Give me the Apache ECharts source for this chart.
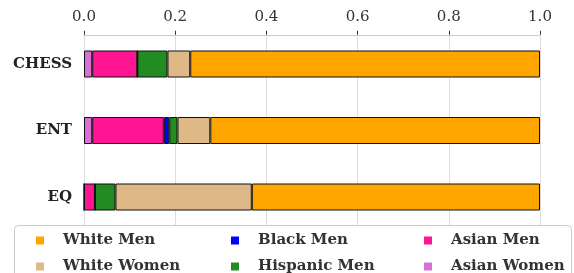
<!DOCTYPE html>
<html>
<head>
<meta charset="utf-8">
<script src="https://cdn.jsdelivr.net/npm/echarts@6/dist/echarts.min.js"></script>
<style>
html,body{margin:0;padding:0;background:#fff;}
#main{width:574px;height:273px;}
</style>
</head>
<body>
<div id="main"></div>
<script>
var categories = ['CHESS', 'ENT', 'EQ'];
var xTicks = [0, 0.2, 0.4, 0.6, 0.8, 1.0];

// stacked left to right
var asianWomen   = [0.018, 0.018, 0];
var asianMen     = [0.099, 0.157, 0.024];
var blackMen     = [0,     0.012, 0];
var hispanicMen  = [0.066, 0.018, 0.045];
var whiteWomen   = [0.050, 0.072, 0.299];
var whiteMen     = [0.767, 0.723, 0.632];

var font = 'DejaVu Serif';

function bar(name, data, color){
	return {
		name : name,
		type : 'bar',
		stack : 'all',
		barWidth : 27,
		data : data,
		itemStyle : {
			color : color,
			borderColor : '#111',
			borderWidth : 1
		}
	};
}

// one legend per entry so the 3x2 grid lines up like the original
function legendItem(left, top, name){
	return {
		left : left,
		top : top,
		z : 20,
		itemWidth : 8,
		itemHeight : 8,
		icon : 'rect',
		itemStyle : { borderWidth : 0 },
		data : [name],
		textStyle : {
			fontFamily : font,
			fontWeight : 'bold',
			fontSize : 15,
			color : '#333',
			padding : [0, 0, 0, 14]
		}
	};
}

var myChart = echarts.init(document.getElementById('main'));
var option = {
	animation : false,
	grid : {
		left : 84,
		right : 34,
		top : 30.75,
		height : 199.5
	},
	xAxis : {
		type : 'value',
		position : 'top',
		min : 0,
		max : 1,
		interval : 0.2,
		offset : -4,
		axisLine : { show : true, lineStyle : { color : '#ccc' } },
		axisTick : { show : true, length : 4, lineStyle : { color : '#333' } },
		axisLabel : {
			margin : 10,
			fontFamily : font,
			fontSize : 15,
			color : '#333',
			formatter : function(v){ return v.toFixed(1); }
		},
		splitLine : { show : true, lineStyle : { color : '#ddd' } }
	},
	yAxis : {
		type : 'category',
		inverse : true,
		data : categories,
		axisLine : { show : false },
		axisTick : { show : false },
		axisLabel : {
			margin : 12,
			fontFamily : font,
			fontWeight : 'bold',
			fontSize : 15,
			color : '#222'
		}
	},
	graphic : [ {
		type : 'rect',
		z : 10,
		shape : { x : 14.5, y : 225.5, width : 557, height : 60, r : 4 },
		style : { fill : '#fff', stroke : '#ccc', lineWidth : 1 }
	} ],
	legend : [
		legendItem(31, 228, 'White Men'),
		legendItem(31, 254, 'White Women'),
		legendItem(226, 228, 'Black Men'),
		legendItem(226, 254, 'Hispanic Men'),
		legendItem(419, 228, 'Asian Men'),
		legendItem(419, 254, 'Asian Women')
	],
	series : [
		bar('Asian Women', asianWomen, '#DA70D6'),
		bar('Asian Men', asianMen, '#FF1493'),
		bar('Black Men', blackMen, '#0000FF'),
		bar('Hispanic Men', hispanicMen, '#228B22'),
		bar('White Women', whiteWomen, '#DEB887'),
		bar('White Men', whiteMen, '#FFA500')
	]
};
myChart.setOption(option);
</script>
</body>
</html>
